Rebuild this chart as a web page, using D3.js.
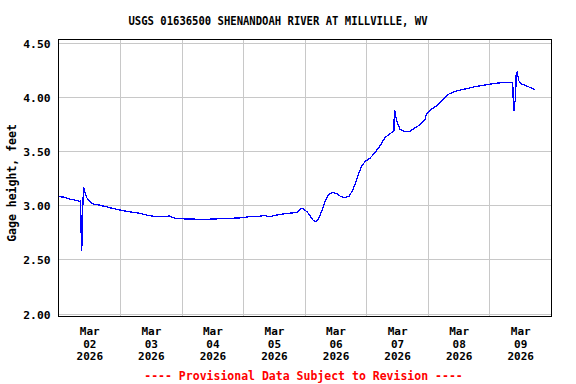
<!DOCTYPE html>
<html>
<head>
<meta charset="utf-8">
<script src="https://d3js.org/d3.v7.min.js"></script>
<style>
    body { margin: 0; background: #ffffff; }
    text { font-family: "DejaVu Sans Mono", monospace; font-weight: bold; fill: #000000; }
</style>
</head>
<body>
<div id="chart"></div>
<script>
// Hours since 2026-03-02 00:00 for each reading
var hoursSinceStart = [
    0, 2, 4, 6, 7.5, 8.3, 8.6, 8.7, 8.95, 9.1, 9.25, 9.4, 9.75, 10.0, 10.5, 11.0, 11.5,
    12.5, 13.5, 15, 18.6, 21, 23.8, 27, 31.6, 34, 36.8, 40, 42, 43.2, 44, 45.9, 49.1,
    52, 56.5, 60, 63, 67, 70.8, 73, 75.3, 77, 78.6, 80, 82.5, 84, 86.4, 89, 91.6, 93,
    94.4, 95.2, 96.1, 97, 98.1, 99.3, 100.3, 101.3, 102.6, 103.9, 105.2, 106.7, 108.5,
    110.1, 111.7, 113.3, 114.5, 115.6, 116.9, 118.2, 119.5, 121.4, 123.4, 125.3, 127.3,
    129.2, 130.5, 130.8, 130.9, 131.2, 131.8, 133.1, 135.1, 137, 139, 140.9, 142.9,
    143.5, 145.5, 147.4, 149.4, 151.7, 154.5, 158.5, 162.4, 166.3, 170.2, 174.1, 176.9,
    177.1, 177.3, 177.6, 177.9, 178.2, 178.4, 178.8, 179.1, 179.5, 180.5, 183.1, 185.7
];

// Gage height, feet
var gageHeight = [
    3.078, 3.074, 3.058, 3.048, 3.040, 3.032, 3.040, 2.94, 2.58, 2.62, 2.69, 2.93, 3.17, 3.15, 3.10, 3.07, 3.05,
    3.03, 3.01, 3.005, 2.985, 2.97, 2.955, 2.94, 2.925, 2.91, 2.898, 2.892, 2.893, 2.902, 2.89, 2.876, 2.873,
    2.872, 2.865, 2.872, 2.874, 2.878, 2.882, 2.888, 2.898, 2.896, 2.897, 2.905, 2.891, 2.904, 2.914, 2.922, 2.929, 2.932,
    2.968, 2.970, 2.954, 2.935, 2.900, 2.860, 2.846, 2.868, 2.944, 3.037, 3.093, 3.117, 3.105,
    3.078, 3.068, 3.083, 3.130, 3.191, 3.284, 3.361, 3.401, 3.432, 3.484, 3.546, 3.623,
    3.660, 3.676, 3.690, 3.870, 3.860, 3.778, 3.700, 3.679, 3.682, 3.712, 3.741, 3.793,
    3.845, 3.886, 3.917, 3.963, 4.019, 4.049, 4.071, 4.093, 4.108, 4.123, 4.133, 4.130,
    4.120, 3.947, 3.870, 3.950, 3.960, 4.200, 4.222, 4.190, 4.145, 4.118, 4.093, 4.065
];

var yTickValues = [2.0, 2.5, 3.0, 3.5, 4.0, 4.5];
var dayLabels = ["Mar 02 2026", "Mar 03 2026", "Mar 04 2026", "Mar 05 2026",
                 "Mar 06 2026", "Mar 07 2026", "Mar 08 2026", "Mar 09 2026"];

var titleText = "USGS 01636500 SHENANDOAH RIVER AT MILLVILLE, WV";
var yAxisText = "Gage height, feet";
var footerText = "---- Provisional Data Subject to Revision ----";

var startTime = new Date(2026, 2, 2, 0, 0);
var endTime = new Date(2026, 2, 10, 0, 0);

var width = 576, height = 384;
var plotLeft = 58.5, plotRight = 551.5, plotTop = 39.5, plotBottom = 316.5;

var svg = d3.select("#chart")
    .append("svg")
    .attr("width", width)
    .attr("height", height)
    .style("display", "block");

svg.append("rect")
    .attr("width", width)
    .attr("height", height)
    .attr("fill", "#ffffff");

var x = d3.scaleTime()
    .domain([startTime, endTime])
    .range([plotLeft, plotRight - 0.5]);

var y = d3.scaleLinear()
    .domain([2.0, 4.5])
    .range([313.5, 42.5]);

// Horizontal grid lines
svg.append("g")
    .selectAll("line")
    .data(yTickValues)
    .join("line")
    .attr("x1", plotLeft)
    .attr("x2", plotRight)
    .attr("y1", function(d) { return Math.round(y(d)) + 0.5; })
    .attr("y2", function(d) { return Math.round(y(d)) + 0.5; })
    .attr("stroke", "#c8c8c8")
    .attr("stroke-width", 1);

// Vertical grid lines at each midnight inside the plot
var midnights = d3.timeDay.range(d3.timeDay.offset(startTime, 1), endTime);
svg.append("g")
    .selectAll("line")
    .data(midnights)
    .join("line")
    .attr("x1", function(d) { return Math.round(x(d)) + 0.5; })
    .attr("x2", function(d) { return Math.round(x(d)) + 0.5; })
    .attr("y1", plotTop)
    .attr("y2", plotBottom)
    .attr("stroke", "#c8c8c8")
    .attr("stroke-width", 1);

// The data line
var readings = hoursSinceStart.map(function(h, i) {
    return { time: new Date(startTime.getTime() + h * 3600000), value: gageHeight[i] };
});

var line = d3.line()
    .x(function(d) { return x(d.time); })
    .y(function(d) { return y(d.value); });

svg.append("path")
    .datum(readings)
    .attr("d", line)
    .attr("fill", "none")
    .attr("stroke", "#0000ff")
    .attr("stroke-width", 1.3)
    .attr("shape-rendering", "crispEdges");

// Plot frame
svg.append("rect")
    .attr("x", plotLeft)
    .attr("y", plotTop)
    .attr("width", plotRight - plotLeft)
    .attr("height", plotBottom - plotTop)
    .attr("fill", "none")
    .attr("stroke", "#000000")
    .attr("stroke-width", 1);

// Y axis labels
var yAxis = d3.axisLeft(y)
    .tickValues(yTickValues)
    .tickFormat(d3.format(".2f"))
    .tickSize(0)
    .tickPadding(8);

var yAxisGroup = svg.append("g")
    .attr("transform", "translate(" + plotLeft + ",0)")
    .call(yAxis);
yAxisGroup.select(".domain").remove();
yAxisGroup.selectAll("text")
    .attr("font-family", null)
    .style("font-size", "11.3px")
    .attr("dy", "0.4em");

// X axis labels, three lines each, centred on noon of each day
var noons = d3.timeDay.range(startTime, endTime).map(function(d) { return d3.timeHour.offset(d, 12); });
var xAxis = d3.axisBottom(x)
    .tickValues(noons)
    .tickFormat("")
    .tickSize(0);

var xAxisGroup = svg.append("g")
    .attr("transform", "translate(0," + plotBottom + ")")
    .call(xAxis);
xAxisGroup.select(".domain").remove();
xAxisGroup.selectAll(".tick text").each(function(d, i) {
    var parts = dayLabels[i].split(" ");
    var label = d3.select(this)
        .attr("font-family", null)
        .attr("y", 0)
        .attr("dy", null)
        .style("font-size", "11px");
    parts.forEach(function(part, k) {
        label.append("tspan")
            .attr("x", 0)
            .attr("y", 18.5 + k * 12.7)
            .text(part);
    });
});

// Title, squeezed to the narrow width of the original
svg.append("text")
    .attr("x", 278)
    .attr("y", 24.5)
    .attr("text-anchor", "middle")
    .attr("textLength", 299)
    .attr("lengthAdjust", "spacingAndGlyphs")
    .style("font-size", "11.5px")
    .text(titleText);

// Y axis title
svg.append("text")
    .attr("transform", "translate(15.5,183) rotate(-90)")
    .attr("text-anchor", "middle")
    .style("font-size", "11.5px")
    .text(yAxisText);

// Footer
svg.append("text")
    .attr("x", 303.5)
    .attr("y", 379.5)
    .attr("text-anchor", "middle")
    .style("font-size", "11.5px")
    .style("fill", "#ff0000")
    .text(footerText);
</script>
</body>
</html>
